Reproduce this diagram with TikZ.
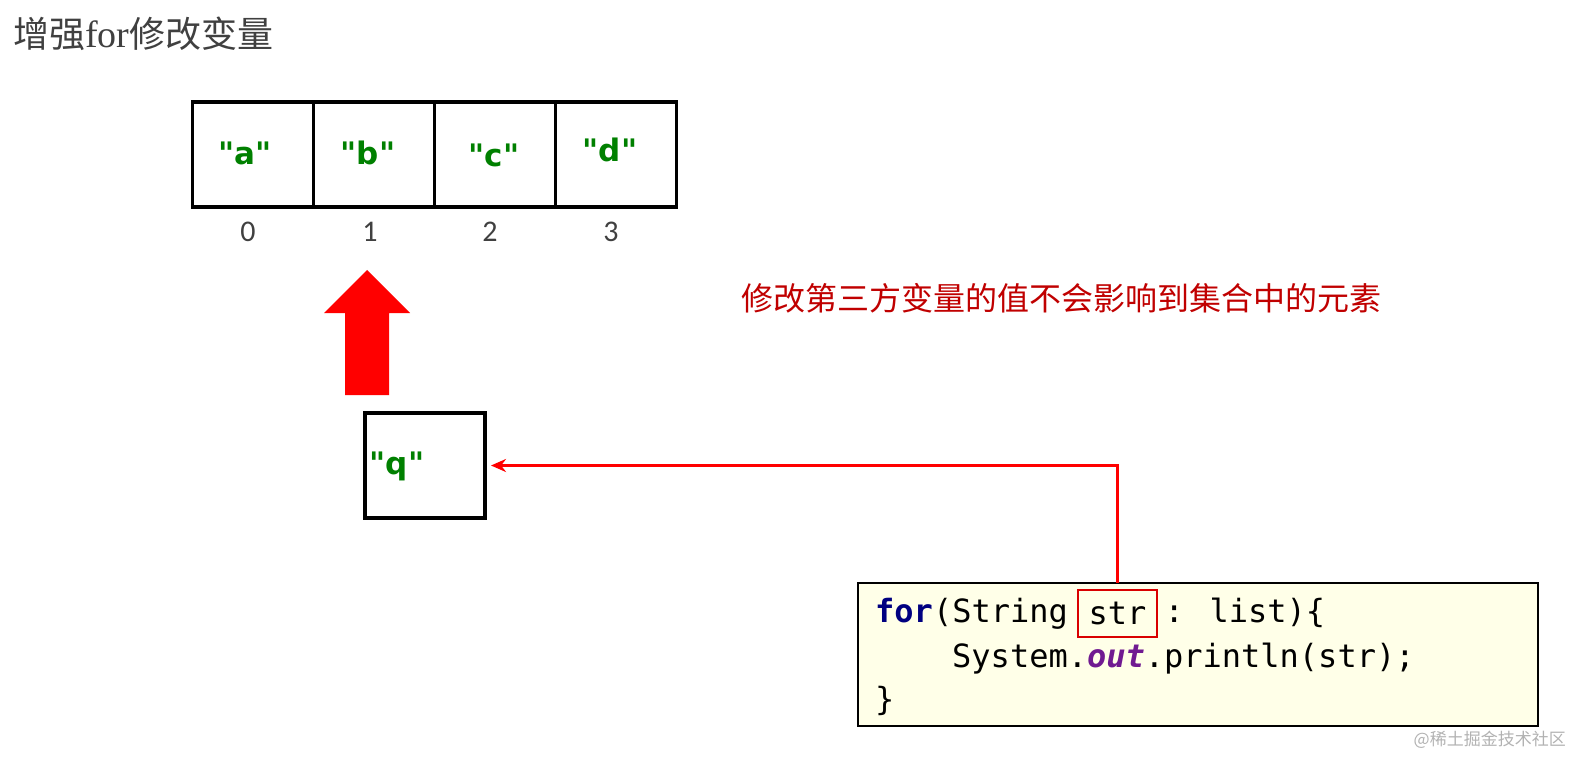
\documentclass[tikz,border=0pt]{standalone}
\usepackage{fontspec}
\setmainfont{Carlito}
\newfontfamily\cjk{Noto Sans CJK SC}
\newfontfamily\valfont{DejaVu Sans}
\newfontfamily\codefont{DejaVu Sans Mono}
\newfontfamily\titlelatin{Liberation Serif}
\usetikzlibrary{arrows.meta,calc}
\definecolor{valgreen}{RGB}{0,128,0}
\definecolor{titlegray}{RGB}{64,64,64}
\definecolor{notered}{RGB}{192,0,0}
\definecolor{codebg}{RGB}{255,255,232}
\definecolor{kwblue}{RGB}{0,0,128}
\definecolor{kwpurple}{RGB}{112,26,145}
\begin{document}
\begin{tikzpicture}[x=1pt,y=-1pt,
  cell/.style={draw, line width=3.5pt, minimum width=121pt, minimum height=105pt, inner sep=0pt, outer sep=0pt},
  val/.style={text=valgreen, font=\fontsize{31}{36}\selectfont\valfont\bfseries, inner sep=0pt},
  idx/.style={text=titlegray, font=\fontsize{30}{32}\selectfont, inner sep=0pt},
  codetext/.style={font=\fontsize{32}{38}\selectfont\codefont, inner sep=0pt, anchor=base west},
  conn/.style={draw=red, line width=3pt, -{Stealth[length=15pt,width=13pt]}},
]
\useasboundingbox (0,0) rectangle (1576,759);

% title
\node[anchor=west, inner sep=0pt, text=titlegray, font=\fontsize{36}{40}\selectfont\cjk] (title) at (13,34) {增强{\titlelatin\fontsize{38}{40}\selectfont for}修改变量};

% array
\node[cell] (c0) at (253,154.5) {};
\node[cell] (c1) at (374,154.5) {};
\node[cell] (c2) at (495,154.5) {};
\node[cell] (c3) at (616,154.5) {};
\node[val] (va) at (245,153) {"a"};
\node[val] (vb) at (368,153) {"b"};
\node[val] (vc) at (494,155) {"c"};
\node[val] (vd) at (610,150) {"d"};
\node[idx] (i0) at (248,232) {0};
\node[idx] (i1) at (370,232) {1};
\node[idx] (i2) at (490,232) {2};
\node[idx] (i3) at (611,232) {3};

% big red arrow
\fill[red] (367,270) -- (410,313) -- (389,313) -- (389,395) -- (345,395) -- (345,313) -- (324,313) -- cycle;

% note
\node[anchor=west, inner sep=0pt, text=notered, font=\fontsize{32}{36}\selectfont\cjk] (note) at (741,298) {修改第三方变量的值不会影响到集合中的元素};

% q box
\node[draw, line width=3.5pt, minimum width=120pt, minimum height=105pt, inner sep=0pt, outer sep=0pt] (q) at (425,465.5) {};
\node[val] (vq) at (397,466) {"q"};

% code box
\node[draw, line width=2pt, fill=codebg, minimum width=680pt, minimum height=143pt, inner sep=0pt, outer sep=0pt] (code) at (1198,654.5) {};
\node[codetext] (l1a) at (875,622) {\textcolor{kwblue}{\bfseries for}(String};
\node[draw=red!85!black, line width=1.8pt, minimum width=79pt, minimum height=47pt, inner sep=0pt, font=\fontsize{32}{38}\selectfont\codefont] (str) at (1117.5,613.5) {str};
\node[codetext] (l1b) at (1164.5,622) {: list)\{};
\node[codetext] (l2) at (952,667) {System.\textcolor{kwpurple}{\bfseries\itshape out}.println(str);};
\node[codetext] (l3) at (875,710) {\}};

% connector
\draw[conn, shorten >=6pt] (str.north |- code.north) |- (q.east);

% watermark
\node[anchor=east, inner sep=0pt, text=black!30, font=\fontsize{17}{20}\selectfont\cjk] (wm) at (1566,740) {@稀土掘金技术社区};
\end{tikzpicture}
\end{document}
